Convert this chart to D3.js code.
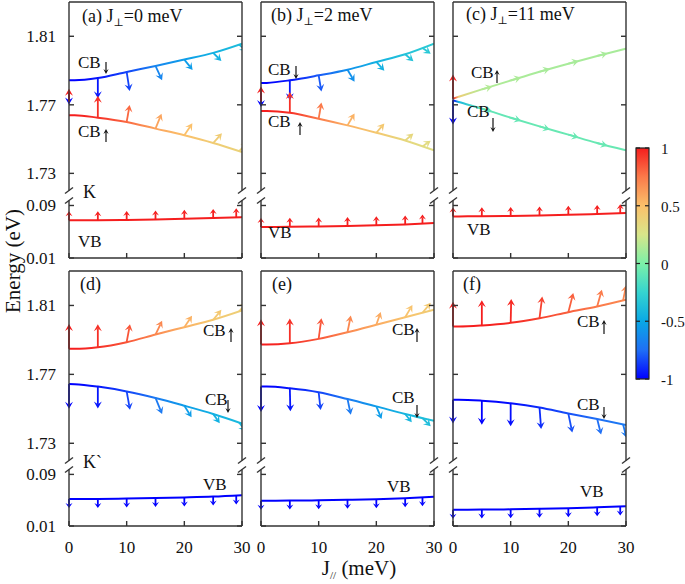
<!DOCTYPE html>
<html>
<head>
<meta charset="utf-8">
<script src="https://cdn.jsdelivr.net/npm/d3@7.9.0/dist/d3.min.js"></script>
<style>
  body { margin: 0; background: #fff; }
  svg, svg text { font-family: 'Liberation Serif', 'Times New Roman', Tinos, 'DejaVu Serif', serif; }
  svg text { fill: #111; }
</style>
</head>
<body>
<svg id="chart" width="685" height="584" font-family="Liberation Serif, Times New Roman, DejaVu Serif, serif"></svg>
<script>
// J_// grid (meV) at which the bands were read
const jGrid = [0, 1, 5, 10, 15, 20, 25, 30];

// colour bar (spin polarisation Sz)
const cbStops = [-1, -0.75, -0.5, -0.25, 0, 0.25, 0.5, 0.75, 1];
const cbColors = ['#0000ff', '#1f6ff5', '#0aa8e6', '#35d4d0', '#7cf0a8', '#d8e68a', '#fbc06a', '#fb7a4a', '#f51e1e'];
const cbTicks = [1, 0.5, 0, -0.5, -1];

const yTicksHi = [1.73, 1.77, 1.81];
const yTicksLo = [0.01, 0.09];
const xTicks = [0, 10, 20, 30];

// (a) J⊥ = 0 meV, K
const aUpperE = [1.7843, 1.7843, 1.7856, 1.7892, 1.7927, 1.7964, 1.8003, 1.8057];
const aUpperP = [-1, -1, -0.95, -0.85, -0.65, -0.55, -0.45, -0.38];
const aLowerE = [1.7639, 1.7639, 1.7625, 1.7600, 1.7561, 1.7522, 1.7477, 1.7424];
const aLowerP = [1, 1, 0.95, 0.8, 0.6, 0.5, 0.42, 0.38];
const aVbE = [0.0674, 0.0674, 0.0676, 0.0680, 0.0688, 0.0698, 0.0710, 0.0723];
const aArrowJ = [0, 5, 10, 15, 20, 25, 29.5];
const aUpperSx = [0, 0, 0.27, 0.6, 0.75, 0.75, 0.7];
const aUpperSz = [-0.57, -0.88, -0.83, -0.62, -0.45, -0.35, -0.3];
const aLowerSx = [0, 0, 0.27, 0.55, 0.73, 0.8, 0.8];
const aLowerSz = [0.55, 0.95, 0.74, 0.65, 0.52, 0.43, 0.4];
const aTail0 = [1.7779, 1.7720];
const aVbArrowJ = [0, 5, 10, 15, 20, 25, 29];

// (b) J⊥ = 2 meV, K
const bUpperE = [1.7827, 1.7828, 1.7843, 1.7872, 1.7905, 1.7950, 1.7995, 1.8057];
const bUpperP = [-1, -1, -0.95, -0.8, -0.6, -0.45, -0.35, -0.3];
const bLowerE = [1.7664, 1.7664, 1.7654, 1.7619, 1.7580, 1.7537, 1.7492, 1.7434];
const bLowerP = [1, 1, 0.95, 0.75, 0.55, 0.45, 0.35, 0.3];
const bVbE = [0.0573, 0.0573, 0.0575, 0.0580, 0.0588, 0.0598, 0.0612, 0.0633];
const bArrowJ = [0, 5, 10, 15, 20, 25, 28];
const bUpperSx = [0, 0, 0.25, 0.64, 0.73, 0.75, 0.75];
const bUpperSz = [-0.65, -0.87, -0.7, -0.52, -0.38, -0.3, -0.25];
const bLowerSx = [0, 0, 0.25, 0.64, 0.73, 0.75, 0.75];
const bLowerSz = [0.65, 0.9, 0.7, 0.52, 0.4, 0.3, 0.25];
const bTail0 = [1.7774, 1.7720];
const bVbArrowJ = [0, 5, 10, 15, 20, 25, 28];

// (c) J⊥ = 11 meV, K
const cUpperE = [1.7736, 1.7747, 1.7790, 1.7842, 1.7893, 1.7940, 1.7985, 1.8028];
const cUpperP = [1, 0.4, 0.15, 0.13, 0.12, 0.12, 0.12, 0.12];
const cLowerE = [1.7726, 1.7716, 1.7678, 1.7625, 1.7574, 1.7526, 1.7477, 1.7434];
const cLowerP = [-1, -0.4, -0.1, -0.08, -0.07, -0.07, -0.07, -0.07];
const cVbE = [0.0734, 0.0734, 0.0736, 0.0740, 0.0748, 0.0758, 0.0770, 0.0784];
const cArrowJ = [0, 5, 10, 15, 20, 25];
const cUpperSx = [0, 0.95, 0.95, 0.95, 0.95, 0.95];
const cUpperSz = [1.05, 0.13, 0.13, 0.13, 0.12, 0.12];
const cLowerSx = [0, 0.95, 0.95, 0.95, 0.95, 0.95];
const cLowerSz = [-1.05, -0.13, -0.13, -0.13, -0.12, -0.12];
const cVbArrowJ = [0, 5, 10, 15, 20, 25, 29];

// (d) J⊥ = 0 meV, K'
const dUpperE = [1.7848, 1.7848, 1.7857, 1.7887, 1.7931, 1.7974, 1.8017, 1.8071];
const dUpperP = [1, 1, 0.95, 0.85, 0.7, 0.55, 0.45, 0.4];
const dLowerE = [1.7644, 1.7643, 1.7629, 1.7601, 1.7563, 1.7518, 1.7470, 1.7415];
const dLowerP = [-1, -1, -0.95, -0.85, -0.7, -0.55, -0.45, -0.4];
const dVbE = [0.0518, 0.0518, 0.0520, 0.0525, 0.0533, 0.0543, 0.0556, 0.0578];
const dArrowJ = [0, 5, 10, 15, 20, 25, 29.5];
const dUpperSx = [0, 0, 0.3, 0.6, 0.7, 0.75, 0.75];
const dUpperSz = [1.08, 1.0, 0.78, 0.6, 0.5, 0.43, 0.4];
const dLowerSx = [0, 0, 0.3, 0.6, 0.66, 0.6, 0.6];
const dLowerSz = [-1.08, -0.95, -0.8, -0.7, -0.5, -0.4, -0.38];
const dVbArrowJ = [0, 5, 10, 15, 20, 25, 29];

// (e) J⊥ = 2 meV, K'
const eUpperE = [1.7873, 1.7873, 1.7880, 1.7906, 1.7945, 1.7988, 1.8032, 1.8075];
const eUpperP = [1, 1, 0.95, 0.85, 0.7, 0.58, 0.48, 0.42];
const eLowerE = [1.7629, 1.7629, 1.7619, 1.7596, 1.7557, 1.7514, 1.7470, 1.7431];
const eLowerP = [-1, -1, -0.95, -0.85, -0.7, -0.55, -0.42, -0.35];
const eVbE = [0.0492, 0.0492, 0.0494, 0.0498, 0.0506, 0.0516, 0.0532, 0.0553];
const eArrowJ = [0, 5, 10, 15, 20, 25, 28];
const eUpperSx = [0, 0, 0.25, 0.3, 0.4, 0.66, 0.75];
const eUpperSz = [1.1, 1.08, 0.9, 0.72, 0.55, 0.53, 0.43];
const eLowerSx = [0, 0.05, 0.18, 0.3, 0.48, 0.6, 0.75];
const eLowerSz = [-1.1, -1.0, -0.77, -0.68, -0.55, -0.36, -0.36];
const eVbArrowJ = [0, 5, 10, 15, 20, 25, 28];

// (f) J⊥ = 11 meV, K'
const fUpperE = [1.7978, 1.7978, 1.7984, 1.7999, 1.8026, 1.8061, 1.8094, 1.8133];
const fUpperP = [1, 1, 1, 0.97, 0.9, 0.82, 0.75, 0.7];
const fLowerE = [1.7553, 1.7553, 1.7547, 1.7532, 1.7508, 1.7473, 1.7441, 1.7406];
const fLowerP = [-1, -1, -1, -0.97, -0.9, -0.82, -0.75, -0.7];
const fVbE = [0.0352, 0.0352, 0.0354, 0.0358, 0.0366, 0.0376, 0.0390, 0.0407];
const fArrowJ = [0, 5, 10, 15, 20, 25, 29.5];
const fUpperSx = [0, 0, 0.05, 0.25, 0.45, 0.43, 0.27];
const fUpperSz = [1.08, 1.1, 1.04, 0.94, 0.83, 0.73, 0.65];
const fLowerSx = [0, 0, 0, 0.15, 0.36, 0.36, 0.3];
const fLowerSz = [-1.04, -1.04, -1.0, -0.94, -0.83, -0.68, -0.58];
const fVbArrowJ = [0, 5, 10, 15, 20, 25, 29];

// layout
const panelW = 173;
const colX = [69, 261, 453];
const rows = [
  { top: 2, brkA: 190.5, brkB: 200.5, bottom: 258 },
  { top: 271, brkA: 460.5, brkB: 469.5, bottom: 526 }
];
const eHi = [1.72, 1.83], eLo = [0.01, 0.0976];
const frameColor = '#333';
const Lx = 11, Ly = 23, vbLen = 9;

const panels = [
  { col: 0, row: 0, up: [aUpperE, aUpperP, aUpperSx, aUpperSz], lo: [aLowerE, aLowerP, aLowerSx, aLowerSz],
    vbE: aVbE, vbPol: 1, arrowJ: aArrowJ, vbArrowJ: aVbArrowJ, tail0: aTail0,
    title: ['(a) J', '⊥', '=0 meV'], tx: 82, ty: 22,
    cb: [{ x: 78, y: 68, ax: 106, a1: 62, a2: 74 }, { x: 78, y: 137, ax: 106, a1: 142, a2: 129 }],
    valley: { t: 'K', x: 83, y: 198 }, vb: { x: 78, y: 247 } },
  { col: 1, row: 0, up: [bUpperE, bUpperP, bUpperSx, bUpperSz], lo: [bLowerE, bLowerP, bLowerSx, bLowerSz],
    vbE: bVbE, vbPol: 1, arrowJ: bArrowJ, vbArrowJ: bVbArrowJ, tail0: bTail0,
    title: ['(b) J', '⊥', '=2 meV'], tx: 271, ty: 21,
    cb: [{ x: 268, y: 75, ax: 296, a1: 66, a2: 79 }, { x: 268, y: 127, ax: 300, a1: 135, a2: 122 }],
    vb: { x: 268, y: 238 } },
  { col: 2, row: 0, up: [cUpperE, cUpperP, cUpperSx, cUpperSz], lo: [cLowerE, cLowerP, cLowerSx, cLowerSz],
    vbE: cVbE, vbPol: 1, arrowJ: cArrowJ, vbArrowJ: cVbArrowJ, tail0: null,
    title: ['(c) J', '⊥', '=11 meV'], tx: 466, ty: 20,
    cb: [{ x: 471, y: 78, ax: 497, a1: 83, a2: 70 }, { x: 467, y: 117, ax: 493, a1: 118, a2: 132 }],
    vb: { x: 467, y: 235 } },
  { col: 0, row: 1, up: [dUpperE, dUpperP, dUpperSx, dUpperSz], lo: [dLowerE, dLowerP, dLowerSx, dLowerSz],
    vbE: dVbE, vbPol: -1, arrowJ: dArrowJ, vbArrowJ: dVbArrowJ, tail0: null,
    title: ['(d)'], tx: 80, ty: 290,
    cb: [{ x: 203, y: 336, ax: 231, a1: 342, a2: 328 }, { x: 205, y: 405, ax: 228, a1: 400, a2: 413 }],
    valley: { t: 'K`', x: 83, y: 468 }, vb: { x: 203, y: 490 } },
  { col: 1, row: 1, up: [eUpperE, eUpperP, eUpperSx, eUpperSz], lo: [eLowerE, eLowerP, eLowerSx, eLowerSz],
    vbE: eVbE, vbPol: -1, arrowJ: eArrowJ, vbArrowJ: eVbArrowJ, tail0: null,
    title: ['(e)'], tx: 272, ty: 290,
    cb: [{ x: 392, y: 335, ax: 417, a1: 342, a2: 328 }, { x: 392, y: 403, ax: 417, a1: 405, a2: 418 }],
    vb: { x: 387, y: 492 } },
  { col: 2, row: 1, up: [fUpperE, fUpperP, fUpperSx, fUpperSz], lo: [fLowerE, fLowerP, fLowerSx, fLowerSz],
    vbE: fVbE, vbPol: -1, arrowJ: fArrowJ, vbArrowJ: fVbArrowJ, tail0: null,
    title: ['(f)'], tx: 463, ty: 290,
    cb: [{ x: 577, y: 327, ax: 604, a1: 334, a2: 320 }, { x: 577, y: 410, ax: 604, a1: 407, a2: 419 }],
    vb: { x: 580, y: 497 } }
];

const svg = d3.select('#chart');
const defs = svg.append('defs');
const color = d3.scaleLinear().domain(cbStops).range(cbColors).interpolate(d3.interpolateRgb).clamp(true);

function drawArrow(g, x1, y1, dx, dy, col, hl, hw, sw) {
  const len = Math.hypot(dx, dy);
  if (len < 0.5) return;
  const ux = dx / len, uy = dy / len, nx = -uy, ny = ux;
  const tx = x1 + dx, ty = y1 + dy;
  const bx = tx - ux * hl, by = ty - uy * hl;
  const mx = tx - ux * hl * 0.6, my = ty - uy * hl * 0.6;
  g.append('line').attr('x1', x1).attr('y1', y1).attr('x2', mx).attr('y2', my)
    .attr('stroke', col).attr('stroke-width', sw);
  const pts = [[tx, ty], [bx + nx * hw, by + ny * hw], [mx, my], [bx - nx * hw, by - ny * hw]];
  g.append('path').attr('d', 'M' + pts.join('L') + 'Z').attr('fill', col);
}

panels.forEach((p, pi) => {
  const r = rows[p.row];
  const x0 = colX[p.col], x1 = x0 + panelW;
  const x = d3.scaleLinear([0, 30], [x0, x1]);
  const yHi = d3.scaleLinear(eHi, [r.brkA, r.top]);
  const yLo = d3.scaleLinear(eLo, [r.bottom, r.brkB]);
  const g = svg.append('g');

  defs.append('clipPath').attr('id', 'clip' + pi)
    .append('rect').attr('x', x0 - 20).attr('y', 0).attr('width', panelW + 20).attr('height', 584);
  const plot = g.append('g').attr('clip-path', `url(#clip${pi})`);

  // conduction bands with spin-colour gradient
  [p.up, p.lo].forEach((band, bi) => {
    const [E, P] = band;
    const gid = `grad${pi}_${bi}`;
    const grad = defs.append('linearGradient').attr('id', gid)
      .attr('gradientUnits', 'userSpaceOnUse')
      .attr('x1', x(0)).attr('x2', x(30)).attr('y1', 0).attr('y2', 0);
    jGrid.forEach((j, i) => grad.append('stop').attr('offset', j / 30).attr('stop-color', color(P[i])));
    const line = d3.line().x((d, i) => x(jGrid[i])).y(d => yHi(d)).curve(d3.curveMonotoneX);
    plot.append('path').attr('d', line(E)).attr('fill', 'none')
      .attr('stroke', `url(#${gid})`).attr('stroke-width', 2);
  });

  // valence band
  const vbLine = d3.line().x((d, i) => x(jGrid[i])).y(d => yLo(d)).curve(d3.curveMonotoneX);
  plot.append('path').attr('d', vbLine(p.vbE)).attr('fill', 'none')
    .attr('stroke', color(p.vbPol)).attr('stroke-width', 2);

  // spin arrows on conduction bands
  [p.up, p.lo].forEach((band, bi) => {
    const [E, P, SX, SZ] = band;
    const eAt = d3.scaleLinear(jGrid, E);
    const pAt = d3.scaleLinear(jGrid, P);
    p.arrowJ.forEach((j, k) => {
      const e = (k === 0 && p.tail0) ? p.tail0[bi] : eAt(j);
      drawArrow(plot, x(j), yHi(e), SX[k] * Lx, -SZ[k] * Ly, color(pAt(j)), 7, 4, 1.8);
    });
  });

  // spin arrows on valence band
  const vbAt = d3.scaleLinear(jGrid, p.vbE);
  p.vbArrowJ.forEach(j => {
    drawArrow(plot, x(j), yLo(vbAt(j)), 0, -p.vbPol * vbLen, color(p.vbPol), 5, 3.5, 1.8);
  });

  // frame with axis break
  const fr = g.append('g').attr('stroke', frameColor).attr('stroke-width', 1.4).attr('fill', 'none');
  fr.append('line').attr('x1', x0).attr('x2', x1).attr('y1', r.top).attr('y2', r.top);
  fr.append('line').attr('x1', x0).attr('x2', x1).attr('y1', r.bottom).attr('y2', r.bottom);
  [x0, x1].forEach(xx => {
    fr.append('line').attr('x1', xx).attr('x2', xx).attr('y1', r.top).attr('y2', r.brkA);
    fr.append('line').attr('x1', xx).attr('x2', xx).attr('y1', r.brkB).attr('y2', r.bottom);
    [r.brkA, r.brkB].forEach(yy => {
      fr.append('line').attr('x1', xx - 4).attr('x2', xx + 4).attr('y1', yy + 3).attr('y2', yy - 3);
    });
    const dir = xx === x0 ? 1 : -1;
    yTicksHi.forEach(t => fr.append('line').attr('x1', xx).attr('x2', xx + dir * 5)
      .attr('y1', yHi(t)).attr('y2', yHi(t)));
    yTicksLo.forEach(t => fr.append('line').attr('x1', xx).attr('x2', xx + dir * 5)
      .attr('y1', yLo(t)).attr('y2', yLo(t)));
  });
  xTicks.forEach(t => fr.append('line').attr('x1', x(t)).attr('x2', x(t))
    .attr('y1', r.bottom).attr('y2', r.bottom - 5));

  // tick labels
  if (p.col === 0) {
    yTicksHi.forEach(t => g.append('text').attr('x', 56).attr('y', yHi(t) + 6)
      .attr('text-anchor', 'end').attr('font-size', 17).text(t.toFixed(2)));
    yTicksLo.forEach(t => g.append('text').attr('x', 56).attr('y', yLo(t) + 6)
      .attr('text-anchor', 'end').attr('font-size', 17).text(t.toFixed(2)));
  }
  if (p.row === 1) {
    xTicks.forEach(t => g.append('text').attr('x', x(t)).attr('y', 553)
      .attr('text-anchor', 'middle').attr('font-size', 17).text(t));
  }

  // panel title
  const tt = g.append('text').attr('x', p.tx).attr('y', p.ty).attr('font-size', 18);
  tt.append('tspan').text(p.title[0]);
  if (p.title.length > 1) {
    tt.append('tspan').attr('font-size', 11).attr('dy', 4).text(p.title[1]);
    tt.append('tspan').attr('dy', -4).text(p.title[2]);
  }

  // band labels
  p.cb.forEach(c => {
    g.append('text').attr('x', c.x).attr('y', c.y).attr('font-size', 17).text('CB');
    drawArrow(g, c.ax, c.a1, 0, c.a2 - c.a1, '#111', 5, 2.6, 1.2);
  });
  g.append('text').attr('x', p.vb.x).attr('y', p.vb.y).attr('font-size', 17).text('VB');
  if (p.valley) {
    g.append('text').attr('x', p.valley.x).attr('y', p.valley.y).attr('font-size', 18).text(p.valley.t);
  }
});

// axis titles
svg.append('text').attr('transform', 'translate(20,261) rotate(-90)')
  .attr('text-anchor', 'middle').attr('font-size', 21).text('Energy (eV)');
const xl = svg.append('text').attr('x', 359).attr('y', 575).attr('text-anchor', 'middle').attr('font-size', 21);
xl.append('tspan').text('J');
xl.append('tspan').attr('font-size', 11).attr('dy', 4).text('//');
xl.append('tspan').attr('dy', -4).text(' (meV)');

// colour bar
const cbX = 636, cbW = 13;
const yCb = d3.scaleLinear([-1, 1], [379, 148]);
const cbGrad = defs.append('linearGradient').attr('id', 'cbGrad')
  .attr('x1', 0).attr('x2', 0).attr('y1', 1).attr('y2', 0);
cbStops.forEach((s, i) => cbGrad.append('stop').attr('offset', (s + 1) / 2).attr('stop-color', cbColors[i]));
svg.append('rect').attr('x', cbX).attr('y', yCb(1)).attr('width', cbW).attr('height', yCb(-1) - yCb(1))
  .attr('fill', 'url(#cbGrad)').attr('stroke', '#222').attr('stroke-width', 1.2);
cbTicks.forEach(t => {
  svg.append('line').attr('x1', cbX).attr('x2', cbX + 4).attr('y1', yCb(t)).attr('y2', yCb(t))
    .attr('stroke', '#222').attr('stroke-width', 1.2);
  svg.append('line').attr('x1', cbX + cbW - 4).attr('x2', cbX + cbW).attr('y1', yCb(t)).attr('y2', yCb(t))
    .attr('stroke', '#222').attr('stroke-width', 1.2);
  svg.append('text').attr('x', 661).attr('y', yCb(t) + 6).attr('font-size', 15).text(t);
});
</script>
</body>
</html>
